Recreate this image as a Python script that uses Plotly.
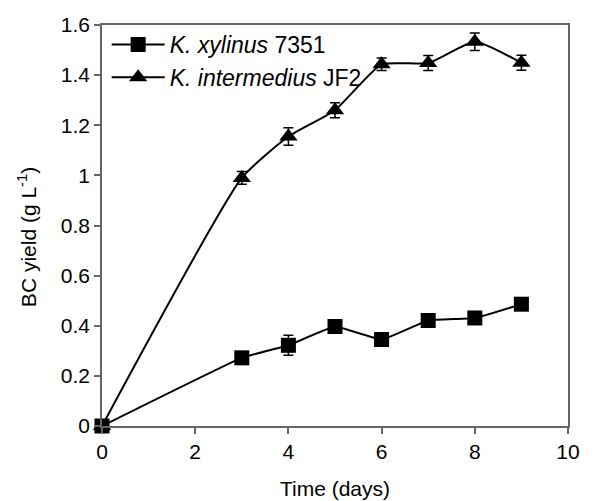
import plotly.graph_objects as go

days = [0, 3, 4, 5, 6, 7, 8, 9]
xylinus = [0, 0.272, 0.322, 0.397, 0.345, 0.421, 0.431, 0.486]
xylinus_err = [0.005, 0.01, 0.04, 0.015, 0.01, 0.01, 0.01, 0.01]
intermedius = [0, 0.99, 1.155, 1.26, 1.443, 1.448, 1.533, 1.449]
intermedius_err = [0.005, 0.025, 0.035, 0.03, 0.025, 0.03, 0.035, 0.03]

FONT = "Liberation Sans, Arial, sans-serif"

fig = go.Figure()
fig.add_trace(go.Scatter(
    x=days, y=xylinus, name="<i>K. xylinus</i> 7351",
    mode="lines+markers",
    line=dict(color="black", width=2, shape="spline", smoothing=0.3),
    marker=dict(symbol="square", size=15, color="black"),
    error_y=dict(type="data", array=xylinus_err, color="black", thickness=1.5, width=5),
    cliponaxis=False,
))
fig.add_trace(go.Scatter(
    x=days, y=intermedius, name="<i>K. intermedius</i> JF2",
    mode="lines+markers",
    line=dict(color="black", width=2, shape="spline", smoothing=0.5),
    marker=dict(symbol="triangle-up", size=16, color="black"),
    error_y=dict(type="data", array=intermedius_err, color="black", thickness=1.5, width=5),
    cliponaxis=False,
))

axis_common = dict(
    showline=True, linecolor="#666", linewidth=1.5, mirror=True,
    ticks="outside", ticklen=6, tickcolor="#666", tickwidth=1.5,
    showgrid=False, zeroline=False, automargin=False,
    tickfont=dict(family=FONT, size=21, color="black"),
)

fig.update_layout(
    width=601, height=501,
    margin=dict(l=102, r=33, t=25, b=75),
    paper_bgcolor="white", plot_bgcolor="white",
    font=dict(family=FONT, size=21, color="black"),
    showlegend=True,
    legend=dict(x=0.01, y=1.005, xanchor="left", yanchor="top",
                bgcolor="rgba(0,0,0,0)", itemwidth=53,
                font=dict(family=FONT, size=23, color="black"),
                tracegroupgap=0),
    xaxis=dict(range=[0, 10], dtick=2, tick0=0,
               title=dict(text="Time (days)", font=dict(family=FONT, size=21), standoff=19),
               **axis_common),
    yaxis=dict(range=[0, 1.6], dtick=0.2, tick0=0, **axis_common),
    annotations=[dict(
        text="BC yield (g L<sup>-1</sup>)", textangle=-90,
        xref="paper", yref="paper", x=0, y=0.471, xshift=-75,
        xanchor="center", yanchor="middle", showarrow=False,
        font=dict(family=FONT, size=21, color="black"),
    )],
)

fig.write_html("out.html")
